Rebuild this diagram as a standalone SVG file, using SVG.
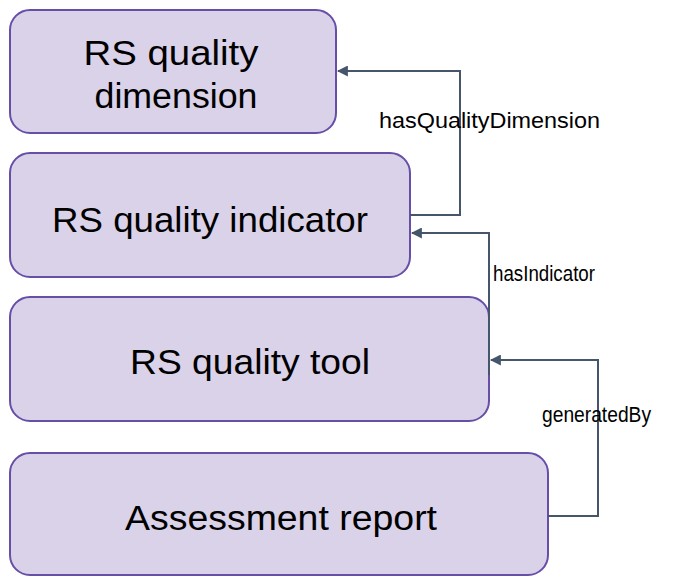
<svg xmlns="http://www.w3.org/2000/svg" width="681" height="577" viewBox="0 0 681 577">
<style>
.box{fill:#d9d2e9;stroke:#674ea7;stroke-width:2}
.t{font-family:"Liberation Sans",Arial,sans-serif;font-size:35px;fill:#000;text-anchor:middle}
.lbl{font-family:"Liberation Sans",Arial,sans-serif;font-size:22px;fill:#000}
.c{fill:none;stroke:#45556c;stroke-width:2}
</style>
<defs>
<marker id="ah" viewBox="0 0 10 10" refX="9" refY="5" markerWidth="5.5" markerHeight="5.5" orient="auto" markerUnits="strokeWidth">
<path d="M0,0 L10,5 L0,10 z" fill="#45556c"/>
</marker>
</defs>
<g id="n1"><rect class="box" x="10" y="10" width="326" height="123" rx="20"/>
<text class="t" x="171" y="65" textLength="175" lengthAdjust="spacingAndGlyphs">RS quality</text>
<text class="t" x="176" y="108" textLength="163" lengthAdjust="spacingAndGlyphs">dimension</text></g>
<g id="n2"><rect class="box" x="10" y="153" width="400" height="124" rx="20"/>
<text class="t" x="210" y="232" textLength="316" lengthAdjust="spacingAndGlyphs">RS quality indicator</text></g>
<g id="n3"><rect class="box" x="10" y="297" width="479" height="124" rx="20"/>
<text class="t" x="250" y="374" textLength="240" lengthAdjust="spacingAndGlyphs">RS quality tool</text></g>
<g id="n4"><rect class="box" x="10" y="453" width="538" height="122" rx="20"/>
<text class="t" x="281" y="530" textLength="312" lengthAdjust="spacingAndGlyphs">Assessment report</text></g>
<g id="connectors">
<path class="c" d="M410,215 H460 V71 H338" marker-end="url(#ah)"/>
<path class="c" d="M489,375 V233 H412" marker-end="url(#ah)"/>
<path class="c" d="M548,516 H598 V360 H491" marker-end="url(#ah)"/>
<text class="lbl" x="379" y="128" textLength="221" lengthAdjust="spacingAndGlyphs">hasQualityDimension</text>
<text class="lbl" x="493" y="281" textLength="102" lengthAdjust="spacingAndGlyphs">hasIndicator</text>
<text class="lbl" x="542" y="422" textLength="109" lengthAdjust="spacingAndGlyphs">generatedBy</text>
</g>
</svg>
